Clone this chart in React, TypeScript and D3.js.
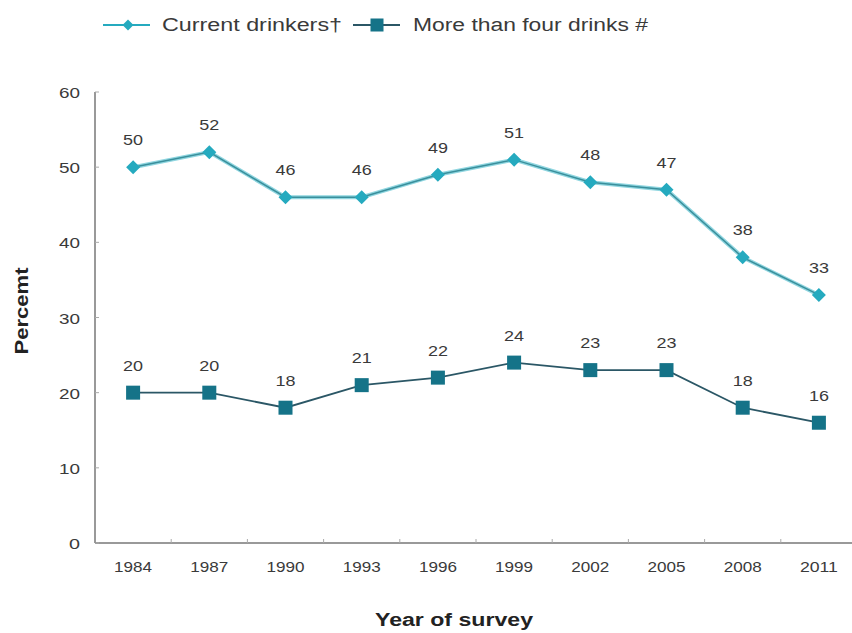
import React from "react";
import * as d3 from "d3";

const years = ["1984", "1987", "1990", "1993", "1996", "1999", "2002", "2005", "2008", "2011"];
const currentDrinkers = [50, 52, 46, 46, 49, 51, 48, 47, 38, 33];
const moreThanFour = [20, 20, 18, 21, 22, 24, 23, 23, 18, 16];
const yTicks = [0, 10, 20, 30, 40, 50, 60];

const W = 852, H = 633;
const left = 95, right = 857, top = 92, bottom = 543;

export default function App() {
  const x = d3.scaleBand<string>().domain(years).range([left, right]);
  const y = d3.scaleLinear().domain([0, 60]).range([bottom, top]);
  const cx = (d: string) => (x(d) as number) + x.bandwidth() / 2;
  const line = d3.line<number>().x((_, i) => cx(years[i])).y((v) => y(v));
  const font = "Arial, 'Liberation Sans', sans-serif";
  const c1 = "#25aabf";
  const c1line = "#3a8f9c";
  const c2 = "#157388";
  const c2line = "#2b5766";
  const txt = "#3a3a3a";
  const diamond = (px: number, py: number, s: number) =>
    `M${px},${py - s}L${px + s},${py}L${px},${py + s}L${px - s},${py}Z`;

  return (
    <svg width={W} height={H} style={{ position: "absolute", left: 0, top: 0, background: "#fff" }} fontFamily={font}>
      {/* legend */}
      <line x1={103} x2={150} y1={25} y2={25} stroke={c1} strokeWidth={2} />
      <path d={diamond(128, 25, 5.5)} fill={c1} />
      <text x={162} y={31} fontSize={18} fill={txt} textLength={180} lengthAdjust="spacingAndGlyphs">Current drinkers†</text>
      <line x1={353} x2={400} y1={25} y2={25} stroke={c2line} strokeWidth={2} />
      <rect x={370.5} y={18.5} width={13} height={13} fill={c2} />
      <text x={413} y={31} fontSize={18} fill={txt} textLength={235} lengthAdjust="spacingAndGlyphs">More than four drinks #</text>

      {/* axes */}
      <line x1={left} x2={left} y1={top} y2={bottom} stroke="#777" strokeWidth={1.5} />
      <line x1={left} x2={W} y1={bottom} y2={bottom} stroke="#777" strokeWidth={1.5} />
      {yTicks.map((t) => (
        <g key={t}>
          <line x1={left} x2={left + 4} y1={y(t)} y2={y(t)} stroke="#aaa" />
          <text x={80} y={y(t) + 6} textAnchor="end" fontSize={15} fill={txt}
            textLength={String(t).length === 1 ? 11 : 21} lengthAdjust="spacingAndGlyphs">{t}</text>
        </g>
      ))}
      {years.map((yr, i) => (
        <g key={yr}>
          {i > 0 && <line x1={x(yr)} x2={x(yr)} y1={bottom} y2={bottom - 4} stroke="#aaa" />}
          <text x={cx(yr)} y={bottom + 29} textAnchor="middle" fontSize={15} fill={txt}
            textLength={38} lengthAdjust="spacingAndGlyphs">{yr}</text>
        </g>
      ))}
      <text transform={`translate(28,311) rotate(-90)`} textAnchor="middle" fontSize={18} fontWeight="bold" fill="#222"
        textLength={87} lengthAdjust="spacingAndGlyphs">Percemt</text>
      <text x={454} y={626} textAnchor="middle" fontSize={18} fontWeight="bold" fill="#222"
        textLength={158} lengthAdjust="spacingAndGlyphs">Year of survey</text>

      {/* series 1 */}
      <path d={line(currentDrinkers) || ""} fill="none" stroke="#8fd6e0" strokeWidth={4} />
      <path d={line(currentDrinkers) || ""} fill="none" stroke={c1line} strokeWidth={1.5} />
      {currentDrinkers.map((v, i) => (
        <g key={"a" + i}>
          <path d={diamond(cx(years[i]), y(v), 7)} fill={c1} />
          <text x={cx(years[i])} y={y(v) - 22} textAnchor="middle" fontSize={15} fill={txt}
            textLength={20} lengthAdjust="spacingAndGlyphs">{v}</text>
        </g>
      ))}

      {/* series 2 */}
      <path d={line(moreThanFour) || ""} fill="none" stroke={c2line} strokeWidth={1.8} />
      {moreThanFour.map((v, i) => (
        <g key={"b" + i}>
          <rect x={cx(years[i]) - 7} y={y(v) - 7} width={14} height={14} fill={c2} />
          <text x={cx(years[i])} y={y(v) - 22} textAnchor="middle" fontSize={15} fill={txt}
            textLength={20} lengthAdjust="spacingAndGlyphs">{v}</text>
        </g>
      ))}
    </svg>
  );
}
